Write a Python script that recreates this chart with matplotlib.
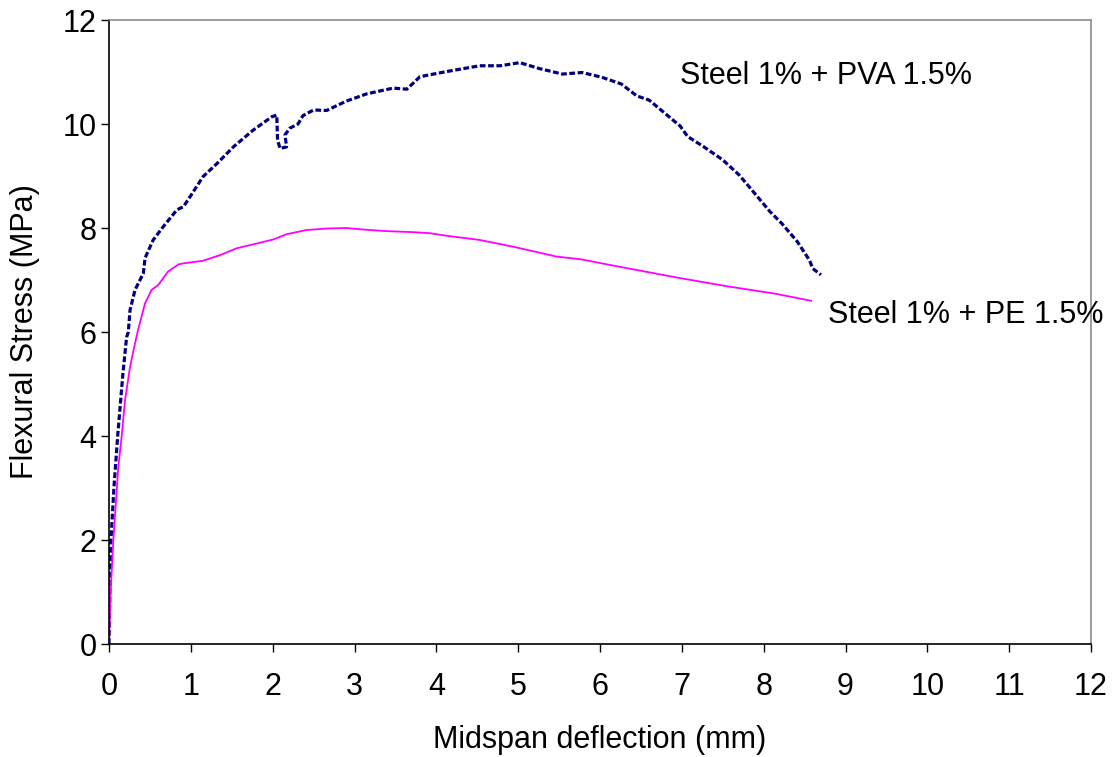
import numpy as np
import matplotlib
matplotlib.use('Agg')
import matplotlib.pyplot as plt

plt.rcParams['font.family'] = ['Liberation Sans', 'DejaVu Sans']

# --- Daten ---
# Steel 1% + PVA 1.5%
pva_x = [0.0, 0.01, 0.024, 0.06, 0.106, 0.17, 0.215, 0.236, 0.257, 0.318, 0.42, 0.44,
         0.54, 0.66, 0.83, 0.91, 0.99, 1.15, 1.32, 1.52, 1.76, 1.99, 2.05, 2.06,
         2.09, 2.17, 2.15, 2.21, 2.31, 2.37, 2.50, 2.66, 2.90, 3.15, 3.47, 3.64,
         3.80, 4.13, 4.53, 4.78, 5.02, 5.25, 5.54, 5.78, 6.02, 6.26, 6.45, 6.60,
         6.79, 6.98, 7.07, 7.27, 7.50, 7.70, 7.84, 8.08, 8.22, 8.41, 8.56, 8.60, 8.70]
pva_y = [0.0, 1.0, 2.0, 3.0, 4.0, 5.2, 5.9, 6.0, 6.42, 6.81, 7.13, 7.42,
         7.77, 8.02, 8.35, 8.41, 8.60, 8.99, 9.24, 9.56, 9.88, 10.14, 10.17, 9.69,
         9.53, 9.56, 9.79, 9.92, 10.0, 10.16, 10.27, 10.26, 10.44, 10.58, 10.69, 10.67,
         10.91, 11.01, 11.12, 11.12, 11.18, 11.07, 10.96, 10.99, 10.90, 10.77, 10.54, 10.46,
         10.21, 9.96, 9.76, 9.56, 9.31, 9.02, 8.76, 8.31, 8.09, 7.74, 7.38, 7.22, 7.10]

# Steel 1% + PE 1.5%
pe_x = [0.0, 0.02, 0.053, 0.114, 0.155, 0.196, 0.257, 0.318, 0.36, 0.44, 0.52, 0.60,
        0.72, 0.85, 0.91, 1.15, 1.36, 1.56, 1.80, 2.01, 2.17, 2.41, 2.66, 2.90,
        3.11, 3.39, 3.72, 3.92, 4.13, 4.53, 4.94, 5.47, 5.76, 6.12, 6.93, 7.55, 8.13, 8.58]
pe_y = [0.0, 1.0, 2.0, 3.41, 4.0, 4.69, 5.33, 5.78, 6.07, 6.55, 6.81, 6.90,
        7.16, 7.30, 7.32, 7.37, 7.48, 7.61, 7.70, 7.78, 7.88, 7.96, 7.99, 8.00,
        7.97, 7.94, 7.92, 7.90, 7.85, 7.77, 7.64, 7.45, 7.40, 7.29, 7.05, 6.88, 6.74, 6.60]

labels = ['Steel 1% + PVA 1.5%', 'Steel 1% + PE 1.5%']

# --- Plot ---
fig = plt.figure(figsize=(11.14, 7.57), dpi=100)
ax = fig.add_axes([109 / 1114, 1 - 644 / 757, (1091 - 109) / 1114, (644 - 20) / 757])

ax.plot(pva_x, pva_y, color='#000080', lw=2.3, dashes=(1.8, 0.8))
ax.plot(pe_x, pe_y, color='#FF00FF', lw=1.3)

ax.text(6.98, 10.92, labels[0], fontsize=22, va='center', ha='left')
ax.text(8.79, 6.33, labels[1], fontsize=22, va='center', ha='left', clip_on=False)

ax.set_xlim(0, 12)
ax.set_ylim(0, 12)
ax.set_xticks(range(0, 13))
ax.set_yticks(range(0, 13, 2))
ax.tick_params(labelsize=22, direction='out', length=6, width=1, colors='black')
ax.tick_params(axis='x', pad=14)
ax.tick_params(axis='y', pad=3)

ax.spines['left'].set_color('black')
ax.spines['bottom'].set_color('black')
ax.spines['top'].set_color('#8c8c8c')
ax.spines['right'].set_color('#8c8c8c')
for s in ax.spines.values():
    s.set_linewidth(1.2)

ax.set_xlabel('Midspan deflection (mm)', fontsize=22, labelpad=17)
ax.set_ylabel('Flexural Stress (MPa)', fontsize=22, labelpad=16)

plt.savefig('out.png', dpi=100)
